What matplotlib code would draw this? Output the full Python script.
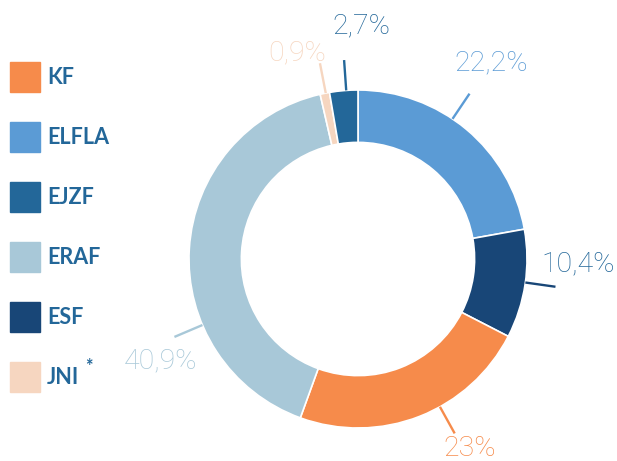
import numpy as np
import matplotlib
matplotlib.use("Agg")
import matplotlib.pyplot as plt
from matplotlib.patches import Rectangle

# podatki
labels = ["ELFLA", "ESF", "KF", "ERAF", "JNI", "EJZF"]
shares = [22.2, 10.4, 23.0, 40.9, 0.9, 2.7]
pct_text = ["22,2%", "10,4%", "23%", "40,9%", "0,9%", "2,7%"]
colors = {"KF": "#f68b4b", "ELFLA": "#5b9bd5", "EJZF": "#236799",
          "ERAF": "#a8c8d8", "ESF": "#184677", "JNI": "#f6d6c0"}
text_colors = {"ELFLA": "#5b9bd5", "ESF": "#236799", "KF": "#f68b4b",
               "ERAF": "#a8c8d8", "JNI": "#f6d6c0", "EJZF": "#236799"}
legend_order = ["KF", "ELFLA", "EJZF", "ERAF", "ESF", "JNI"]

# postavitev oznak (kot povezovalne crte od vrha v smeri urinega kazalca, pozicija teksta)
lead_angle = [34, 98, 151, 247, 349, 356]
text_pos = [(0.79, 1.16), (1.30, -0.03), (0.66, -1.12),
            (-1.17, -0.60), (-0.36, 1.22), (0.02, 1.38)]

W, H = 617, 461
fig = plt.figure(figsize=(W / 100, H / 100), dpi=100)

cx, cy, R = 358, 259, 169
ax = fig.add_axes([(cx - R) / W, (H - cy - R) / H, 2 * R / W, 2 * R / H])
wedges, _ = ax.pie(shares, colors=[colors[l] for l in labels], startangle=90,
                   counterclock=False, radius=1,
                   wedgeprops=dict(width=0.31, edgecolor="white", linewidth=1.2))
ax.set_xlim(-1, 1)
ax.set_ylim(-1, 1)
ax.set_aspect("equal")
ax.axis("off")

for lab, txt, ang, (tx, ty) in zip(labels, pct_text, lead_angle, text_pos):
    a = np.deg2rad(ang)
    c = colors[lab]
    ax.plot([np.sin(a) * 1.0, np.sin(a) * 1.18], [np.cos(a) * 1.0, np.cos(a) * 1.18],
            color=c, lw=1.7, clip_on=False, solid_capstyle="butt")
    ax.text(tx, ty, txt, color=text_colors[lab], fontsize=20.5, family="Roboto",
            weight="light", ha="center", va="center")

# legenda
for i, lab in enumerate(legend_order):
    yc = 77 + i * 60
    fig.add_artist(Rectangle((10 / W, (H - yc - 15) / H), 30 / W, 30 / H,
                             transform=fig.transFigure, color=colors[lab]))
    fig.text(47 / W, (H - yc) / H, lab, color="#236799", fontsize=15.5,
             weight="bold", family="Lato", va="center", ha="left")
    if lab == "JNI":
        fig.text(85 / W, (H - yc + 11) / H, "*", color="#236799", fontsize=13,
                 weight="bold", family="Lato", va="center", ha="left")

fig.savefig("out.png", dpi=100)
